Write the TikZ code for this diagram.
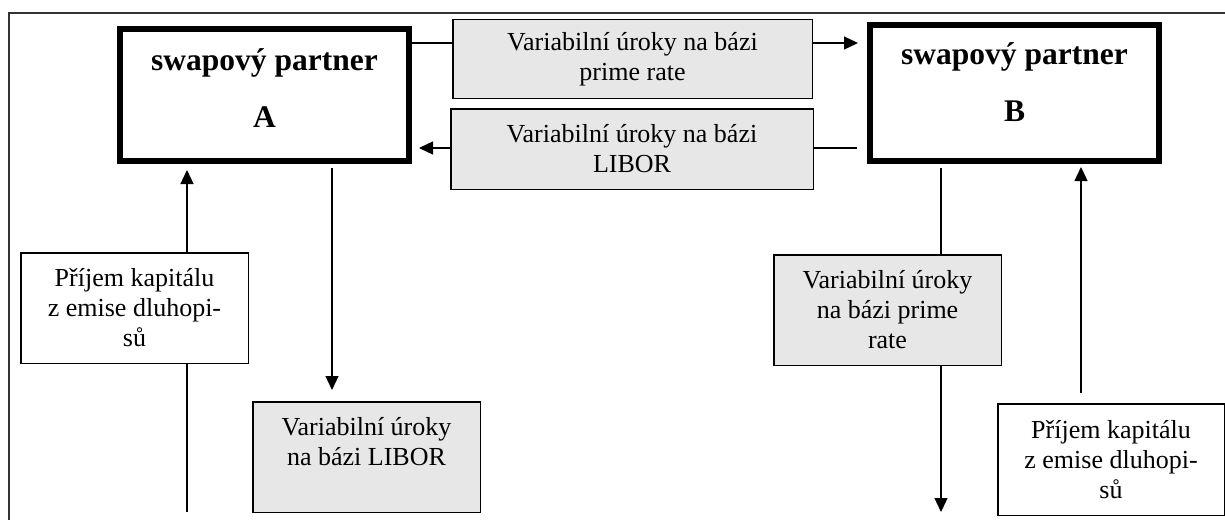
\documentclass[tikz,border=0pt]{standalone}
\usepackage{fontspec}
\setmainfont{Liberation Serif}
\usetikzlibrary{arrows.meta}
\definecolor{boxgray}{RGB}{231,231,231}

\begin{document}
\begin{tikzpicture}[x=1pt,y=-1pt,
  partner/.style={draw, line width=6pt, inner sep=0pt, anchor=north west},
  note/.style={draw, line width=1.5pt, inner sep=0pt, anchor=north west,
    align=center, font=\fontsize{26}{30}\selectfont},
  rate/.style={note, fill=boxgray},
  flow/.style={line width=1.3pt},
  arr/.style={flow, -{Triangle[length=14pt,width=13pt]}},
  frame/.style={line width=1.8pt, draw=black!80},
  ptext/.style={font=\fontsize{31.5}{57}\bfseries\selectfont, align=center, inner sep=0pt},
  plain/.style={font=\fontsize{26}{30}\selectfont, align=center, inner sep=0pt}
]
\useasboundingbox (0,0) rectangle (1225,519);

% outer frame (left and top edges)
\draw[frame] (9,530) -- (9,13) -- (1235,13);

% swap partners
\node[partner, minimum width=289pt, minimum height=132pt] (A) at (117,26) {};
\node[ptext] (Atext) at ([yshift=6.5pt]A.center) {swapový partner\\A};
\node[partner, minimum width=289pt, minimum height=136pt] (B) at (867,22) {};
\node[ptext] (Btext) at ([yshift=10.5pt]B.center) {swapový partner\\B};

% exchanged interest flows
\node[rate, minimum width=359.5pt, minimum height=78.5pt] (P) at (452,19)
  {Variabilní úroky na bázi\\prime rate};
\node[rate, minimum width=362.5pt, minimum height=80.5pt] (L) at (450,108)
  {Variabilní úroky na bázi\\LIBOR};

% capital and payments of partner A
\node[note, minimum width=227.5pt, minimum height=110.5pt] (KA) at (20,252)
  {Příjem kapitálu\\z emise dluhopi-\\sů};
\node[rate, minimum width=227.5pt, minimum height=110.5pt] (LA) at (252,401) {};
\node[plain, anchor=north] (LAtext) at ([yshift=-16pt]LA.north)
  {Variabilní úroky\\na bázi LIBOR};

% capital and payments of partner B
\node[rate, minimum width=227.5pt, minimum height=110.5pt] (PB) at (773,254)
  {Variabilní úroky\\na bázi prime\\rate};
\node[note, minimum width=226.5pt, minimum height=111.5pt] (KB) at (997,403)
  {Příjem kapitálu\\z emise dluhopi-\\sů};

% helper coordinates for connector rows and columns
\coordinate (topY) at (0,43);
\coordinate (botY) at (0,148);
\coordinate (xa1) at (187,0);
\coordinate (xa2) at (332,0);
\coordinate (xb1) at (941,0);
\coordinate (xb2) at (1081,0);
\coordinate (endA) at (187,512);
\coordinate (endB) at (941,512);

% horizontal flows between the partners
\draw[flow] (A.east |- topY) -- (P.west |- topY);
\draw[arr, shorten >=9pt] (P.east |- topY) -- (B.west |- topY);
\draw[flow, shorten <=10pt] (B.west |- botY) -- (L.east |- botY);
\draw[arr, shorten >=7pt] (L.west |- botY) -- (A.east |- botY);

% partner A
\draw[flow] (endA) -- (KA.south -| xa1);
\draw[arr, shorten >=6pt] (KA.north -| xa1) -- (A.south -| xa1);
\draw[arr, shorten <=4pt, shorten >=11pt] (A.south -| xa2) -- (LA.north -| xa2);

% partner B
\draw[flow, shorten <=4pt] (B.south -| xb1) -- (PB.north -| xb1);
\draw[arr] (PB.south -| xb1) -- (endB);
\draw[arr, shorten <=10pt, shorten >=3pt] (KB.north -| xb2) -- (B.south -| xb2);
\end{tikzpicture}
\end{document}
